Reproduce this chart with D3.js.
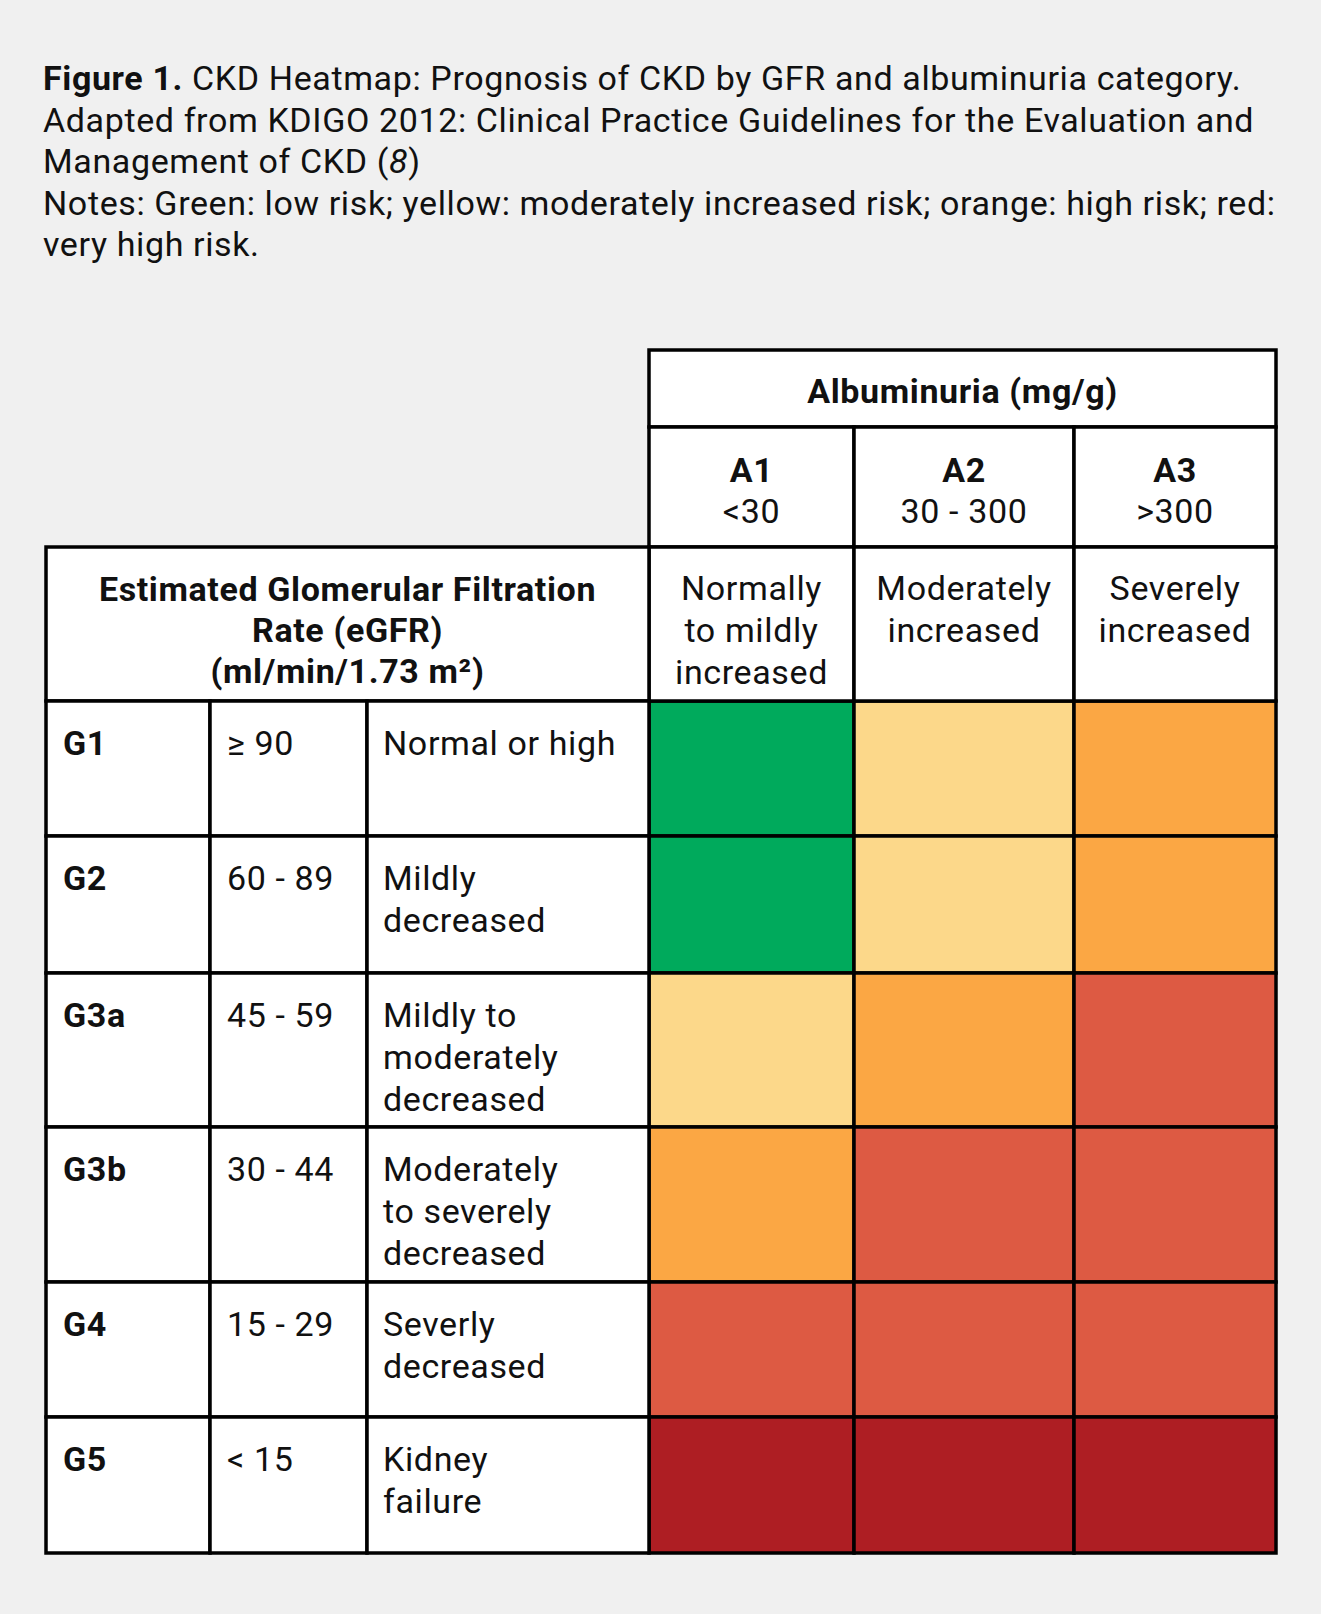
<!DOCTYPE html>
<html>
<head>
<meta charset="utf-8">
<script src="https://cdn.jsdelivr.net/npm/d3@7/dist/d3.min.js"></script>
<style>
  html, body { margin: 0; padding: 0; background: #f0f0f0; }
  svg { display: block; }
  text { font-family: Roboto, "Noto Sans", sans-serif; fill: #111; letter-spacing: 0.62px; }
</style>
</head>
<body>
<svg id="chart" width="1321" height="1614"></svg>
<script>
// ---------------- DATA ----------------
const titleLines = [
  [{t: "Figure 1.", b: true}, {t: " CKD Heatmap: Prognosis of CKD by GFR and albuminuria category."}],
  [{t: "Adapted from KDIGO 2012: Clinical Practice Guidelines for the Evaluation and"}],
  [{t: "Management of CKD ("}, {t: "8", i: true}, {t: ")"}],
  [{t: "Notes: Green: low risk; yellow: moderately increased risk; orange: high risk; red:"}],
  [{t: "very high risk."}]
];
const albTitle = "Albuminuria (mg/g)";
const albCategories = ["A1", "A2", "A3"];
const albRanges = ["<30", "30 - 300", ">300"];
const albDescriptions = [
  ["Normally", "to mildly", "increased"],
  ["Moderately", "increased"],
  ["Severely", "increased"]
];
const gfrTitle = ["Estimated Glomerular Filtration", "Rate (eGFR)", "(ml/min/1.73 m²)"];
const gfrCategories = ["G1", "G2", "G3a", "G3b", "G4", "G5"];
const gfrRanges = ["≥ 90", "60 - 89", "45 - 59", "30 - 44", "15 - 29", "< 15"];
const gfrDescriptions = [
  ["Normal or high"],
  ["Mildly", "decreased"],
  ["Mildly to", "moderately", "decreased"],
  ["Moderately", "to severely", "decreased"],
  ["Severly", "decreased"],
  ["Kidney", "failure"]
];
// risk level per GFR row (G1..G5) and albuminuria column (A1..A3)
const riskLevels = [
  [0, 1, 2],
  [0, 1, 2],
  [1, 2, 3],
  [2, 3, 3],
  [3, 3, 3],
  [4, 4, 4]
];
const riskNames = ["low", "moderately increased", "high", "very high", "kidney failure"];
const riskColors = ["#00aa5c", "#fcd88a", "#fba744", "#dd5a43", "#ae1e23"];

// ---------------- LAYOUT ----------------
const svg = d3.select("#chart");
const FS = 34;
const LH = 41.5;
const stroke = "#000";
const SW = 3.5;

svg.append("rect").attr("width", 1321).attr("height", 1614).attr("fill", "#f0f0f0");

// Title
const title = svg.append("text").attr("x", 43).attr("font-size", FS);
titleLines.forEach((line, li) => {
  line.forEach((seg, si) => {
    const ts = title.append("tspan").text(seg.t)
      .attr("font-weight", seg.b ? 700 : 400)
      .attr("font-style", seg.i ? "italic" : "normal");
    if (si === 0) ts.attr("x", 43).attr("y", 90 + li * LH);
  });
});

// Scales (piecewise linear for column/row edges)
const x = d3.scaleLinear().domain([0, 1, 2, 3]).range([649, 854, 1074, 1276]);
const y = d3.scaleLinear().domain([0, 1, 2, 3, 4, 5, 6]).range([701, 836, 973, 1127, 1282, 1417, 1553]);
const leftCols = d3.scaleLinear().domain([0, 1, 2, 3]).range([46, 210, 367, 649]);
const hdr = { top: 350, albBottom: 427, catBottom: 547 };
const color = d3.scaleOrdinal().domain(d3.range(riskColors.length)).range(riskColors);

// Heat cells
const cells = [];
riskLevels.forEach((row, r) => row.forEach((v, c) => cells.push({ r, c, v })));
svg.append("g").selectAll("rect").data(cells).join("rect")
  .attr("x", d => x(d.c)).attr("y", d => y(d.r))
  .attr("width", d => x(d.c + 1) - x(d.c))
  .attr("height", d => y(d.r + 1) - y(d.r))
  .attr("fill", d => color(d.v))
  .attr("stroke", stroke).attr("stroke-width", SW);

// White header cells
const white = svg.append("g");
white.append("rect").attr("x", x(0)).attr("y", hdr.top).attr("width", x(3) - x(0)).attr("height", hdr.albBottom - hdr.top)
  .attr("fill", "#fff").attr("stroke", stroke).attr("stroke-width", SW);
albCategories.forEach((c, i) => {
  white.append("rect").attr("x", x(i)).attr("y", hdr.albBottom).attr("width", x(i + 1) - x(i)).attr("height", hdr.catBottom - hdr.albBottom)
    .attr("fill", "#fff").attr("stroke", stroke).attr("stroke-width", SW);
  white.append("rect").attr("x", x(i)).attr("y", hdr.catBottom).attr("width", x(i + 1) - x(i)).attr("height", y(0) - hdr.catBottom)
    .attr("fill", "#fff").attr("stroke", stroke).attr("stroke-width", SW);
});
white.append("rect").attr("x", leftCols(0)).attr("y", hdr.catBottom).attr("width", leftCols(3) - leftCols(0)).attr("height", y(0) - hdr.catBottom)
  .attr("fill", "#fff").attr("stroke", stroke).attr("stroke-width", SW);
gfrCategories.forEach((g, r) => {
  for (let k = 0; k < 3; k++) {
    white.append("rect").attr("x", leftCols(k)).attr("y", y(r)).attr("width", leftCols(k + 1) - leftCols(k)).attr("height", y(r + 1) - y(r))
      .attr("fill", "#fff").attr("stroke", stroke).attr("stroke-width", SW);
  }
});

// Header texts
const tg = svg.append("g").attr("font-size", FS);
tg.append("text").attr("x", (x(0) + x(3)) / 2).attr("y", 403).attr("text-anchor", "middle").attr("font-weight", 700).text(albTitle);
albCategories.forEach((c, i) => {
  const cx = (x(i) + x(i + 1)) / 2;
  tg.append("text").attr("x", cx).attr("y", 482).attr("text-anchor", "middle").attr("font-weight", 700).text(c);
  tg.append("text").attr("x", cx).attr("y", 523).attr("text-anchor", "middle").text(albRanges[i]);
  albDescriptions[i].forEach((l, j) => {
    tg.append("text").attr("x", cx).attr("y", 600 + j * 42).attr("text-anchor", "middle").text(l);
  });
});
gfrTitle.forEach((l, j) => {
  tg.append("text").attr("x", (leftCols(0) + leftCols(3)) / 2).attr("y", 601 + j * 41).attr("text-anchor", "middle").attr("font-weight", 700).text(l);
});

// Row label texts
gfrCategories.forEach((g, r) => {
  const by = y(r) + 54;
  tg.append("text").attr("x", leftCols(0) + 17).attr("y", by).attr("font-weight", 700).text(g);
  tg.append("text").attr("x", leftCols(1) + 17).attr("y", by).text(gfrRanges[r]);
  gfrDescriptions[r].forEach((l, j) => {
    tg.append("text").attr("x", leftCols(2) + 16).attr("y", by + j * 42).text(l);
  });
});
</script>
</body>
</html>
